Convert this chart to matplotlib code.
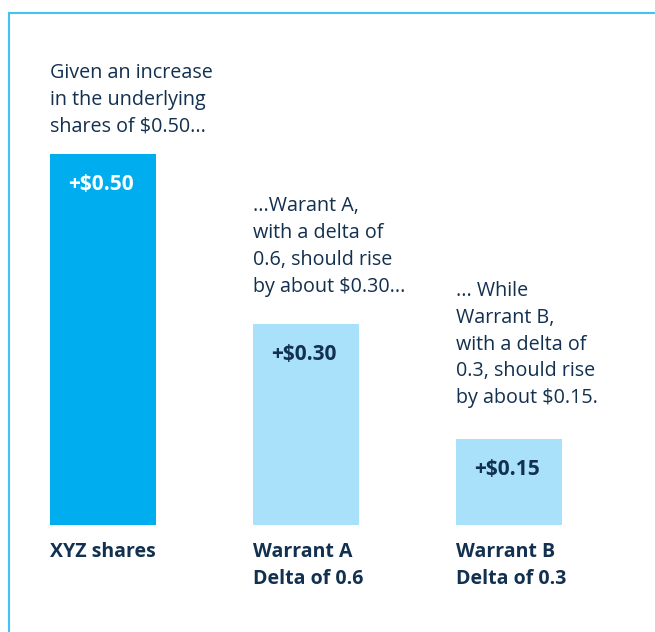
import matplotlib.pyplot as plt
from matplotlib.lines import Line2D

plt.rcParams['font.family'] = ['Open Sans', 'DejaVu Sans']

categories = ['XYZ shares', 'Warrant A\nDelta of 0.6', 'Warrant B\nDelta of 0.3']
values = ['+$0.50', '+$0.30', '+$0.15']
# bar heights as drawn in the picture (not to scale with the values)
heights = [0.50, 0.2715, 0.1156]
notes = ['Given an increase\nin the underlying\nshares of $0.50...',
         '...Warant A,\nwith a delta of\n0.6, should rise\nby about $0.30...',
         '... While\nWarrant B,\nwith a delta of\n0.3, should rise\nby about $0.15.']

navy = '#12304f'
bar_colors = ['#00aeef', '#a9e0fa', '#a9e0fa']
label_colors = ['white', navy, navy]
note_gap = [16, 23, 26]   # points between last line of note and bar top

fig = plt.figure(figsize=(6.55, 6.32), dpi=100)
ax = fig.add_axes([0, 107 / 632, 1, 371 / 632])
w = 106 / 203
x = range(len(categories))
ax.bar(x, heights, width=w, color=bar_colors, align='center')
ax.set_xlim(-103 / 203, 552 / 203)
ax.set_ylim(0, 0.5)
ax.axis('off')

for i, h in enumerate(heights):
    left = i - w / 2
    ax.annotate(values[i], xy=(left, h), xytext=(13, -22), textcoords='offset points',
                ha='left', va='center', fontsize=15, fontweight='bold', color=label_colors[i])
    ax.annotate(notes[i], xy=(left, h), xytext=(0, note_gap[i]), textcoords='offset points',
                ha='left', va='baseline', fontsize=14.2, color=navy, linespacing=1.45)
    ax.annotate(categories[i], xy=(left, 0), xytext=(0, -12), textcoords='offset points',
                ha='left', va='top', fontsize=14, fontweight='bold', color=navy, linespacing=1.52)

# frame lines on top and left
border = '#45c3f0'
fig.add_artist(Line2D([9 / 655, 1], [1 - 13 / 632, 1 - 13 / 632], color=border, lw=1.5))
fig.add_artist(Line2D([9 / 655, 9 / 655], [0, 1 - 13 / 632], color=border, lw=1.5))

fig.savefig('out.png', dpi=100)
